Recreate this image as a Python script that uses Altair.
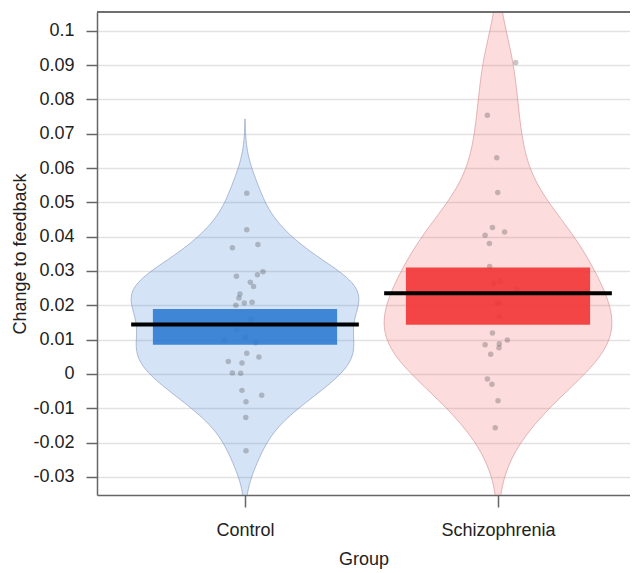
import altair as alt
import pandas as pd

# ---------------- data ----------------
groups = ["Control", "Schizophrenia"]
group_pos = [1, 2]

control_values = [0.0527, 0.0420, 0.0368, 0.0377, 0.0285, 0.0289, 0.0298, 0.0267,
                  0.0255, 0.0233, 0.0221, 0.0207, 0.0200, 0.0209, 0.0160, 0.0128,
                  0.0099, 0.0107, 0.0091, 0.0060, 0.0036, 0.0032, 0.0049, 0.0003,
                  0.0002, -0.0048, -0.0062, -0.0081, -0.0127, -0.0224]
control_jitter = [0.007, 0.007, -0.050, 0.051, -0.034, 0.049, 0.071, 0.021,
                  0.034, -0.020, -0.024, -0.003, -0.036, 0.028, 0.024, -0.033,
                  -0.082, 0.001, 0.042, 0.007, -0.066, -0.012, 0.055, -0.050,
                  -0.017, -0.012, 0.066, 0.004, 0.003, 0.004]

schizo_values = [0.0908, 0.0754, 0.0630, 0.0529, 0.0427, 0.0414, 0.0404, 0.0380,
                 0.0313, 0.0271, 0.0264, 0.0247, 0.0206, 0.0206, 0.0167, 0.0119,
                 0.0099, 0.0088, 0.0085, 0.0076, 0.0057, -0.0015, -0.0030, -0.0078,
                 -0.0157]
schizo_jitter = [0.070, -0.042, -0.005, -0.001, -0.022, 0.026, -0.051, -0.034,
                 -0.033, 0.008, -0.016, 0.074, 0.008, -0.005, 0.005, -0.022,
                 0.037, 0.005, -0.051, 0.004, -0.029, -0.042, -0.024, 0.000,
                 -0.011]

means = [0.0144, 0.0235]
ci_low = [0.0085, 0.0143]
ci_high = [0.0189, 0.0310]
bandwidths = [0.0072, 0.0110]

y_ticks = [-0.03, -0.02, -0.01, 0, 0.01, 0.02, 0.03, 0.04, 0.05,
           0.06, 0.07, 0.08, 0.09, 0.1]

violin_fill = ["#3a7fd5", "#f06060"]
violin_stroke = ["#7f93b8", "#d08a8a"]
bar_colors = ["#2f7bd3", "#f23434"]

# ---------------- layout ----------------
W, H = 533, 483
x_dom = [0.415, 2.5217]
y_dom = [-0.0353, 0.1055]
FONT = "Liberation Sans"

x_scale = alt.Scale(domain=x_dom, nice=False, zero=False)
y_scale = alt.Scale(domain=y_dom, nice=False, zero=False)

x_axis = alt.Axis(values=group_pos,
                  labelExpr="datum.value == 1 ? 'Control' : 'Schizophrenia'",
                  title="Group", grid=False,
                  domainColor="#666666", domainWidth=1.5,
                  tickColor="#666666", tickWidth=1.5, tickSize=12,
                  labelPadding=14, labelFont=FONT, labelFontSize=18,
                  labelColor="#222222", titleFont=FONT, titleFontSize=18,
                  titleFontWeight="normal", titleColor="#222222",
                  titlePadding=11)
y_axis = alt.Axis(values=y_ticks,
                  labelExpr="replace(format(datum.value, '.2~f'), '−', '-')",
                  title="Change to feedback", grid=True,
                  gridColor="#e2e2e2", gridWidth=1.3,
                  domainColor="#666666", domainWidth=1.5,
                  tickColor="#666666", tickWidth=1.5, tickSize=11,
                  labelPadding=12, labelFont=FONT, labelFontSize=18,
                  labelColor="#222222", titleFont=FONT, titleFontSize=18,
                  titleFontWeight="normal", titleColor="#222222",
                  titlePadding=3)

all_values = [control_values, schizo_values]
all_jitter = [control_jitter, schizo_jitter]


def violin(i):
    vals = all_values[i]
    bw = bandwidths[i]
    c = group_pos[i]
    df = pd.DataFrame({"value": vals})
    return (
        alt.Chart(df)
        .transform_density("value", as_=["value", "density"], bandwidth=bw,
                           extent=[min(vals) - 3 * bw, max(vals) + 3 * bw],
                           steps=300)
        .transform_joinaggregate(dmax="max(density)")
        .transform_calculate(xl=f"{c} - 0.45 * datum.density / datum.dmax",
                             xr=f"{c} + 0.45 * datum.density / datum.dmax")
        .mark_area(orient="horizontal", fill=violin_fill[i], fillOpacity=0.22,
                   stroke=violin_stroke[i], strokeOpacity=0.6, strokeWidth=1,
                   clip=True)
        .encode(y=alt.Y("value:Q", scale=y_scale, axis=y_axis),
                x=alt.X("xl:Q", scale=x_scale, axis=x_axis),
                x2="xr:Q")
    )


rows = []
for i, g in enumerate(groups):
    for v, j in zip(all_values[i], all_jitter[i]):
        rows.append({"group": g, "value": v, "xpos": group_pos[i] + j})
points_df = pd.DataFrame(rows)

points = alt.Chart(points_df).mark_circle(size=30, color="#444444", opacity=0.3).encode(
    x=alt.X("xpos:Q", scale=x_scale, axis=x_axis),
    y=alt.Y("value:Q", scale=y_scale, axis=y_axis),
)

summary = pd.DataFrame({"group": groups, "pos": group_pos, "mean": means,
                        "lo": ci_low, "hi": ci_high})

bars = (
    alt.Chart(summary)
    .transform_calculate(bl="datum.pos - 0.364", br="datum.pos + 0.364")
    .mark_rect(opacity=0.9)
    .encode(x=alt.X("bl:Q", scale=x_scale, axis=x_axis), x2="br:Q",
            y=alt.Y("lo:Q", scale=y_scale, axis=y_axis), y2="hi:Q",
            color=alt.Color("group:N", scale=alt.Scale(domain=groups, range=bar_colors),
                            legend=None))
)

mean_lines = (
    alt.Chart(summary)
    .transform_calculate(ml="datum.pos - 0.45", mr="datum.pos + 0.45")
    .mark_rule(color="black", strokeWidth=4)
    .encode(x=alt.X("ml:Q", scale=x_scale, axis=x_axis), x2="mr:Q",
            y=alt.Y("mean:Q", scale=y_scale, axis=y_axis))
)

top_border = alt.Chart(summary).mark_rule(color="#666666", strokeWidth=1.5).encode(
    x=alt.value(0), x2=alt.value(W), y=alt.value(0)
)

chart = (
    alt.layer(violin(0), violin(1), points, bars, mean_lines, top_border)
    .properties(width=W, height=H,
                autosize=alt.AutoSizeParams(type="none"),
                padding={"left": 89, "top": 4, "right": 0, "bottom": 78},
                background="white")
    .configure_view(stroke=None)
)

chart.save("out.html", embed_options={"renderer": "svg", "actions": False})
